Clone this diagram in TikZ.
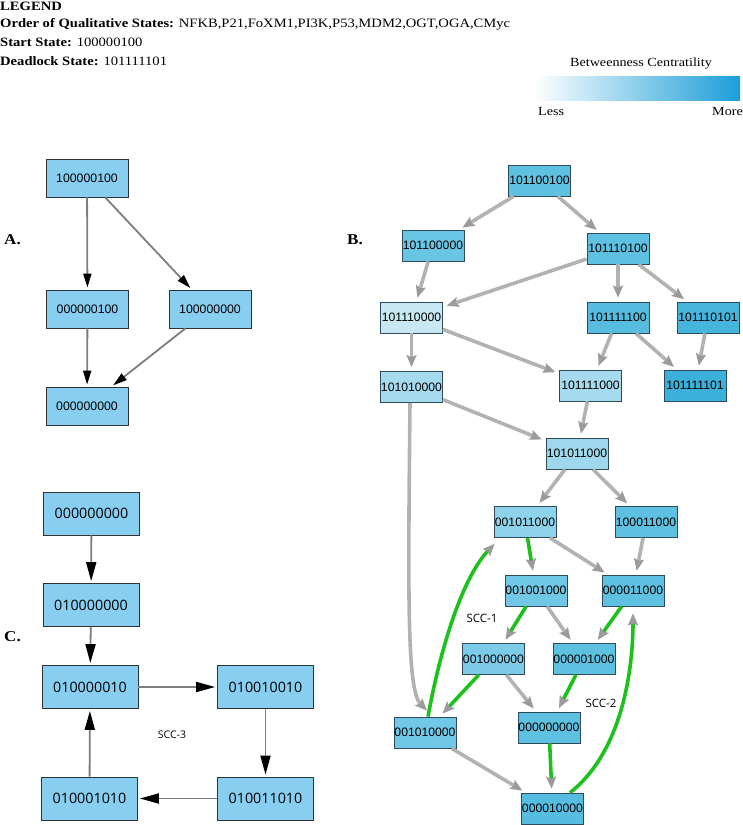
\documentclass[tikz,border=0pt]{standalone}
\usepackage{fontspec}
\setmainfont{Liberation Serif}[FakeStretch=1.14]
\newfontfamily\arialf{Liberation Sans}
\newfontfamily\opensans{Open Sans}
\usetikzlibrary{arrows.meta}
\definecolor{anfill}{RGB}{135,206,240}
\definecolor{anborder}{RGB}{50,50,50}
\definecolor{bnborder}{RGB}{45,75,90}
\definecolor{bA}{RGB}{94,193,225}
\definecolor{bA2}{RGB}{104,198,228}
\definecolor{bB}{RGB}{200,233,244}
\definecolor{bC}{RGB}{166,219,239}
\definecolor{bD}{RGB}{143,210,236}
\definecolor{bE}{RGB}{60,176,218}
\definecolor{bF}{RGB}{70,181,220}
\definecolor{bG}{RGB}{112,200,230}
\definecolor{bH}{RGB}{159,216,237}
\definecolor{bI}{RGB}{124,203,232}
\definecolor{bJ}{RGB}{86,189,224}
\definecolor{edgegrey}{RGB}{178,178,178}
\definecolor{tipgrey}{RGB}{155,155,155}
\definecolor{scc}{RGB}{30,192,30}
\definecolor{aline}{RGB}{125,125,125}
\definecolor{gradend}{RGB}{27,158,216}
\tikzset{
  anode/.style={draw=anborder, line width=0.8pt, fill=anfill, minimum width=82pt, minimum height=38pt, inner sep=0pt, font=\arialf\fontsize{12.3}{14}\selectfont},
  cnode/.style={draw=anborder, line width=0.8pt, fill=anfill, minimum width=96pt, minimum height=43pt, inner sep=0pt, font=\opensans\fontsize{14.3}{16}\selectfont},
  bnode/.style={draw=bnborder, line width=0.7pt, minimum width=62pt, minimum height=31pt, inner sep=0pt, font=\arialf\fontsize{12.2}{14}\selectfont},
  aedge/.style={draw=aline, line width=1.8pt, -{Triangle[length=14pt,width=8pt,color=black]}, shorten >=2pt},
  cedge/.style={draw=aline, line width=1.8pt, -{Triangle[length=19pt,width=10pt,color=black]}, shorten >=2pt},
  bedge/.style={draw=edgegrey, line width=3.6pt, -{Stealth[length=12pt,width=10pt,inset=2pt,color=tipgrey]}, shorten >=4pt},
  gedge/.style={draw=scc, line width=3.6pt, -{Stealth[length=12pt,width=10pt,inset=2pt,color=tipgrey]}, shorten >=4pt},
  legtxt/.style={anchor=base west, inner sep=0pt, font=\fontsize{12.8}{14}\selectfont},
  smalltxt/.style={inner sep=0pt, font=\fontsize{12.4}{13}\selectfont},
  paneltxt/.style={anchor=base west, inner sep=0pt, font=\bfseries\fontsize{15}{17}\selectfont},
  scctxt/.style={inner sep=0pt, font=\opensans\fontsize{11.5}{13}\selectfont}
}
\begin{document}
\begin{tikzpicture}[x=1pt,y=-1pt]
\useasboundingbox (0,0) rectangle (743,825);
% legend
\node[legtxt] (lg1) at (0,10) {\textbf{LEGEND}};
\node[legtxt] (lg2) at (0,27.5) {\textbf{Order of Qualitative States:} NFKB,P21,FoXM1,PI3K,P53,MDM2,OGT,OGA,CMyc};
\node[legtxt] (lg3) at (0,46) {\textbf{Start State:} 100000100};
\node[legtxt] (lg4) at (0,65) {\textbf{Deadlock State:} 101111101};
\node[smalltxt, anchor=base] (bc) at (641,66) {Betweenness Centratility};
\path[left color=white, right color=gradend] (533,76) rectangle (740,100);
\node[smalltxt, anchor=base west] (less) at (538,115) {Less};
\node[smalltxt, anchor=base east] (more) at (743,115) {More};
% panel labels
\node[paneltxt] (la) at (4,244) {A.};
\node[paneltxt] (lb) at (347,244) {B.};
\node[paneltxt] (lc) at (4,641) {C.};
% panel A
\node[anode] (a1) at (87,178) {100000100};
\node[anode] (a2) at (87.5,309) {000000100};
\node[anode] (a3) at (210,309) {100000000};
\node[anode] (a4) at (87,406) {000000000};
\draw[aedge] (a1) -- (a2);
\draw[aedge] (a1) -- (a3);
\draw[aedge] (a2) -- (a4);
\draw[aedge] (a3) -- (a4);
% panel C
\node[cnode] (c1) at (91.5,513.5) {000000000};
\node[cnode] (c2) at (91,605) {010000000};
\node[cnode] (c3) at (90,687) {010000010};
\node[cnode] (c4) at (265.5,687) {010010010};
\node[cnode] (c5) at (265.5,798.5) {010011010};
\node[cnode] (c6) at (89.5,798.5) {010001010};
\draw[cedge] (c1) -- (c2);
\draw[cedge] (c2) -- (c3);
\draw[cedge] (c3) -- (c4);
\draw[cedge] (c4) -- (c5);
\draw[cedge] (c5) -- (c6);
\draw[cedge] (c6) -- (c3);
\node[scctxt, font=\opensans\fontsize{10.5}{12}\selectfont] (scc3) at (172,735) {SCC-3};
% panel B nodes
\node[bnode, fill=bA] (b1) at (539.5,180.5) {101100100};
\node[bnode, fill=bA2] (b2) at (433,245.5) {101100000};
\node[bnode, fill=bA] (b3) at (618,248.5) {101110100};
\node[bnode, fill=bB] (b4) at (411.5,317.5) {101110000};
\node[bnode, fill=bJ] (b5) at (618,317.5) {101111100};
\node[bnode, fill=bF] (b6) at (708,317.5) {101110101};
\node[bnode, fill=bC] (b7) at (411.5,387) {101010000};
\node[bnode, fill=bC] (b8) at (590.5,385.5) {101111000};
\node[bnode, fill=bE] (b9) at (695,385.5) {101111101};
\node[bnode, fill=bH] (b10) at (577,453.5) {101011000};
\node[bnode, fill=bD] (b11) at (525,522) {001011000};
\node[bnode, fill=bA] (b12) at (646,522) {100011000};
\node[bnode, fill=bG] (b13) at (536,590.5) {001001000};
\node[bnode, fill=bA] (b14) at (633,590.5) {000011000};
\node[bnode, fill=bI] (b15) at (493.5,659) {001000000};
\node[bnode, fill=bA] (b16) at (584,659) {000001000};
\node[bnode, fill=bG] (b17) at (425,732.5) {001010000};
\node[bnode, fill=bA] (b18) at (549,727.5) {000000000};
\node[bnode, fill=bJ] (b19) at (552.5,808.5) {000010000};
% panel B edges
\draw[bedge] (b1) -- (b2);
\draw[bedge] (b1) -- (b3);
\draw[bedge] (b2) -- (b4);
\draw[bedge] (b3) -- (b4);
\draw[bedge] (b3) -- (b5);
\draw[bedge] (b3) -- (b6);
\draw[bedge] (b4) -- (b7);
\draw[bedge] (b4) -- (b8);
\draw[bedge] (b5) -- (b8);
\draw[bedge] (b5) -- (b9);
\draw[bedge] (b6) -- (b9);
\draw[bedge] (b8) -- (b10);
\draw[bedge] (b7) -- (b10);
\draw[bedge, shorten >=0pt] ([shift={(-1.5,0)}]b7.south) .. controls (408,600) and (407,690) .. ([shift={(2,-6)}]b17.north);
\draw[bedge] (b10) -- (b11);
\draw[bedge] (b10) -- (b12);
\draw[gedge] (b11) -- (b13);
\draw[bedge] (b11) -- (b14);
\draw[bedge] (b12) -- (b14);
\draw[gedge] (b13) -- (b15);
\draw[bedge] (b13) -- (b16);
\draw[gedge] (b14) -- (b16);
\draw[gedge] (b15) -- (b17);
\draw[bedge] (b15) -- (b18);
\draw[gedge] (b16) -- (b18);
\draw[gedge] (b18) -- (b19);
\draw[bedge] (b17) -- (b19);
\draw[gedge, shorten >=0pt] ([shift={(3,0)}]b17.north) .. controls (440,650) and (462,578) .. ([shift={(1,6)}]b11.south west);
\draw[gedge, shorten >=0pt] ([shift={(17.5,0)}]b19.north) .. controls (622,752) and (633,670) .. ([shift={(0,7)}]b14.south);
\node[scctxt] (scc1) at (482,618) {SCC-1};
\node[scctxt] (scc2) at (601,703) {SCC-2};
\end{tikzpicture}
\end{document}
